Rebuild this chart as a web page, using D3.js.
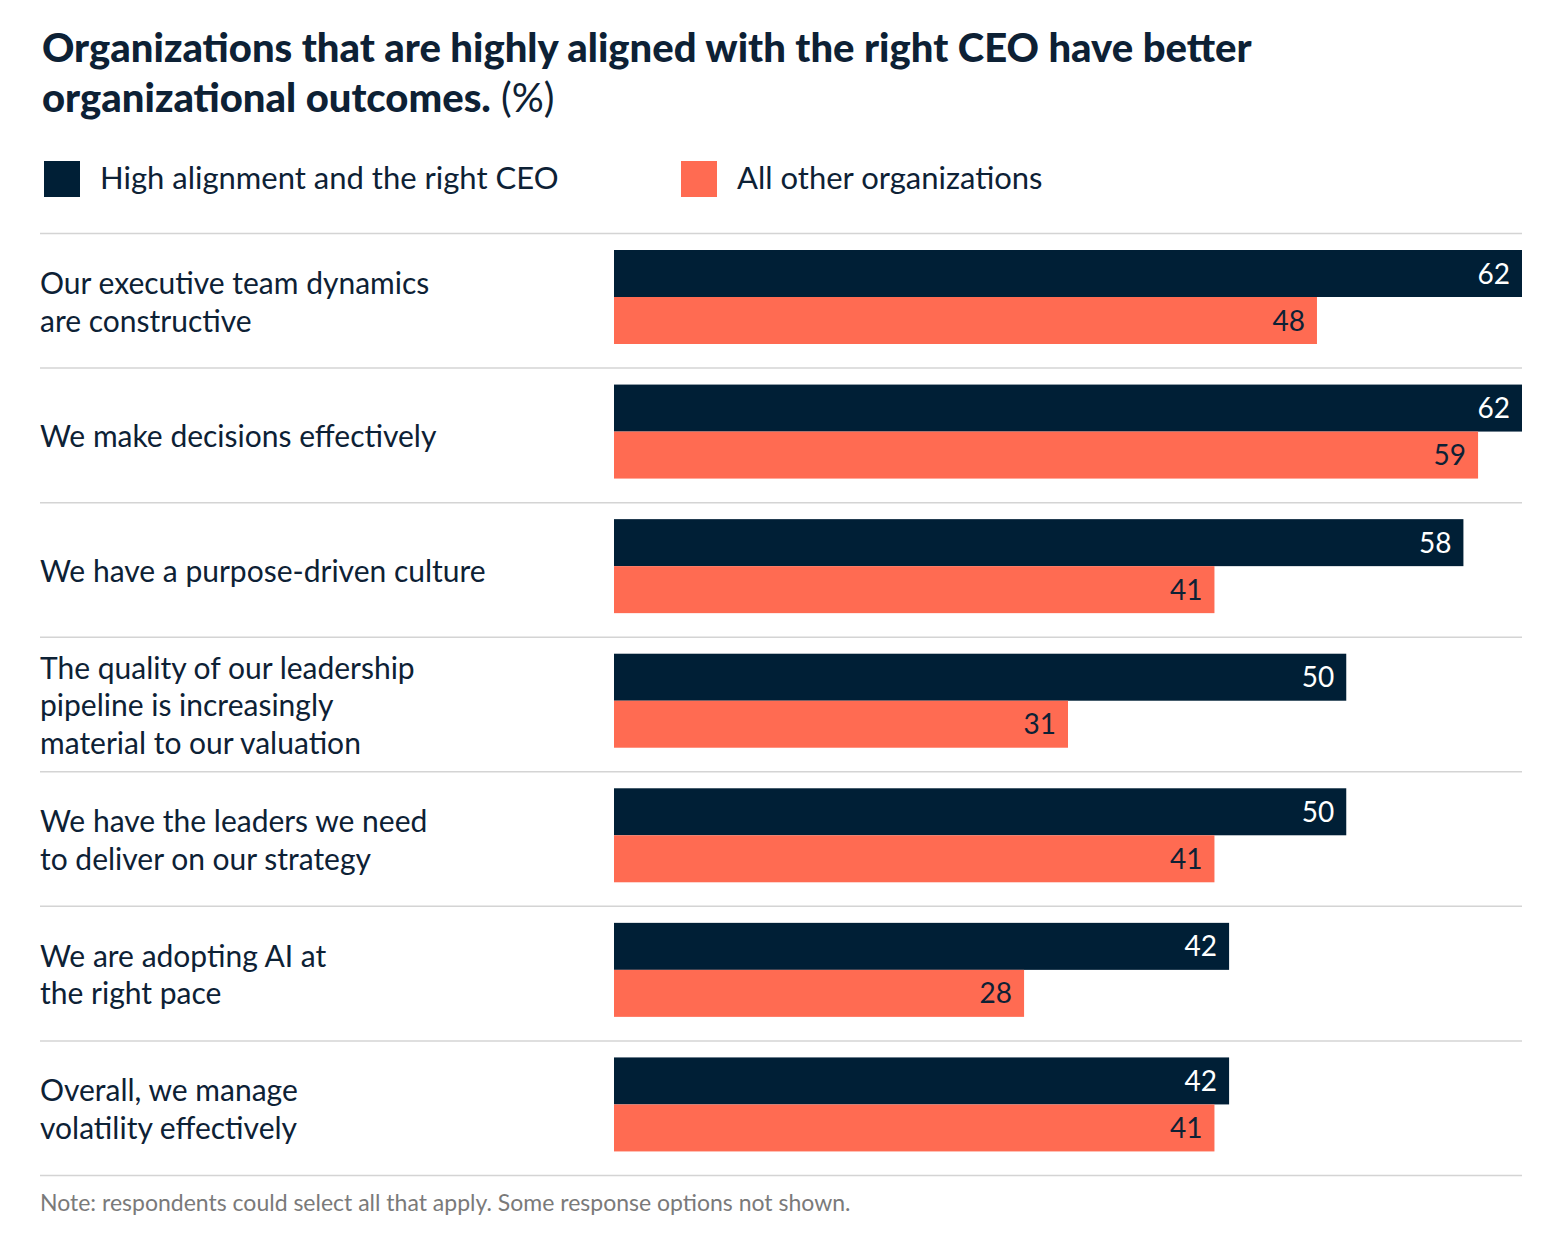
<!DOCTYPE html>
<html><head><meta charset="utf-8">
<script src="https://cdn.jsdelivr.net/npm/d3@7"></script>
<style>body{margin:0;background:#fff}svg{font-family:Lato,"Noto Sans",sans-serif}</style>
</head><body><svg width="1552" height="1246"></svg>
<script>
const categories = [
  ["Our executive team dynamics", "are constructive"],
  ["We make decisions effectively"],
  ["We have a purpose-driven culture"],
  ["The quality of our leadership", "pipeline is increasingly", "material to our valuation"],
  ["We have the leaders we need", "to deliver on our strategy"],
  ["We are adopting AI at", "the right pace"],
  ["Overall, we manage", "volatility effectively"]
];
const highAlign = [62, 62, 58, 50, 50, 42, 42];
const allOther = [48, 59, 41, 31, 41, 28, 41];
const seriesNames = ["High alignment and the right CEO", "All other organizations"];
const colors = ["#001f36", "#ff6b52"];

const svg = d3.select("svg");
const dark = "#0d2135";

// title
const t = svg.append("text").attr("x", 42).attr("fill", dark).style("font-size", "40px");
t.append("tspan").attr("x", 42).attr("y", 62).attr("font-weight", 900).text("Organizations that are highly aligned with the right CEO have better");
t.append("tspan").attr("x", 42).attr("y", 112).attr("font-weight", 900).text("organizational outcomes.");
t.append("tspan").attr("font-weight", 400).text(" (%)");

// legend
const legX = [44, 681];
seriesNames.forEach((n, i) => {
  svg.append("rect").attr("x", legX[i]).attr("y", 161).attr("width", 36).attr("height", 36).attr("fill", colors[i]);
  svg.append("text").attr("x", legX[i] + 56).attr("y", 189).attr("fill", dark).style("font-size", "31px").text(n);
});

const y = d3.scaleBand().domain(d3.range(categories.length)).range([233, 1175]);
const x = d3.scaleLinear().domain([0, 62]).range([614, 1522]);
const barH = 47;

// separators
svg.selectAll("line.sep").data(d3.range(categories.length + 1)).join("line")
  .attr("x1", 40).attr("x2", 1522)
  .attr("y1", d => d < categories.length ? y(d) + 0.5 : 1175.5)
  .attr("y2", d => d < categories.length ? y(d) + 0.5 : 1175.5)
  .attr("stroke", "#d4d4d4").attr("stroke-width", 1.5);

const rows = svg.selectAll("g.row").data(categories).join("g").attr("class", "row")
  .attr("transform", (d, i) => `translate(0,${y(i)})`);

// labels
rows.each(function(lines) {
  const lh = 37.5, c = y.bandwidth() / 2 + 2;
  const txt = d3.select(this).append("text").attr("fill", dark).style("font-size", "30px");
  lines.forEach((l, j) => {
    txt.append("tspan").attr("x", 40)
      .attr("y", c + (j - (lines.length - 1) / 2) * lh).attr("dy", "0.35em").text(l);
  });
});

[highAlign, allOther].forEach((vals, s) => {
  rows.append("rect").attr("x", x(0)).attr("y", 17 + s * barH)
    .attr("width", (d, i) => x(vals[i]) - x(0)).attr("height", barH).attr("fill", colors[s]);
  rows.append("text").attr("x", (d, i) => x(vals[i]) - 12).attr("y", 17 + s * barH + barH / 2)
    .attr("dy", "0.36em").attr("text-anchor", "end").style("font-size", "28px")
    .attr("fill", s === 0 ? "#fff" : dark).text((d, i) => vals[i]);
});

svg.append("text").attr("x", 40).attr("y", 1211).attr("fill", "#7a7a7a").style("font-size", "23px")
  .text("Note: respondents could select all that apply. Some response options not shown.");
</script></body></html>
